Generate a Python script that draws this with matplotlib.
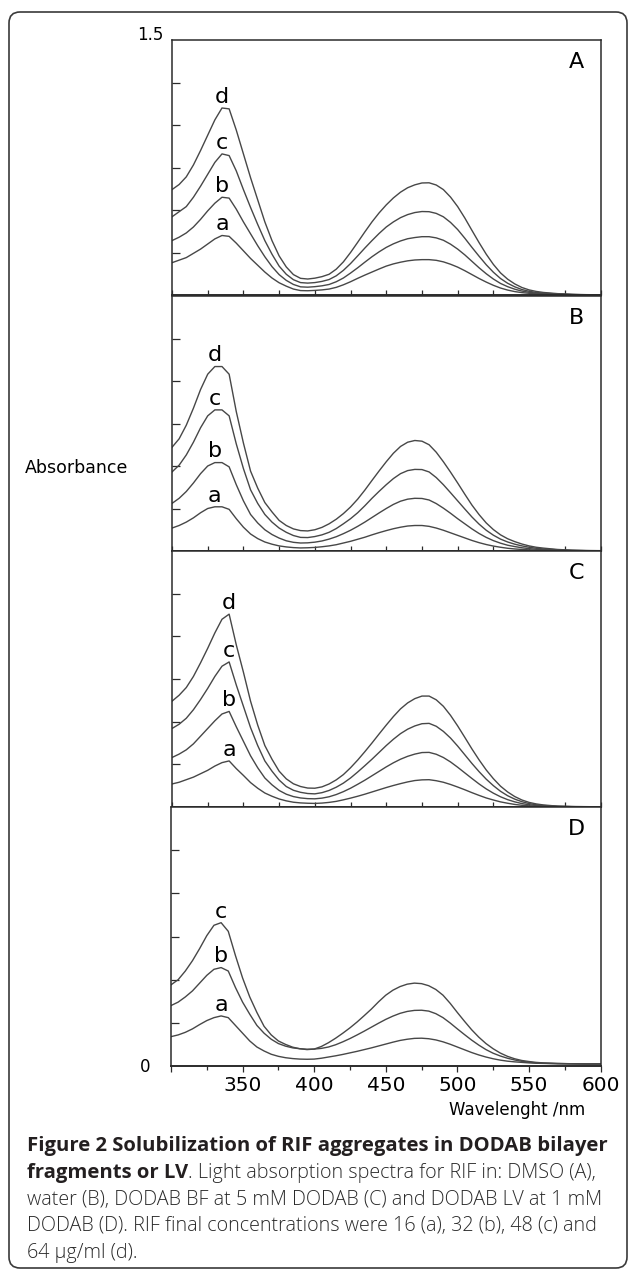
import matplotlib
matplotlib.use("Agg")
import matplotlib.pyplot as plt
from matplotlib.patches import FancyBboxPatch
from matplotlib.ticker import FixedLocator, MultipleLocator, NullFormatter

# ---------------- data ----------------
# wavelengths (nm): 300..560 every 5 nm, then 570, 580, 590, 600
wavelength = [300, 305, 310, 315, 320, 325, 330, 335, 340, 345, 350, 355, 360, 365,
              370, 375, 380, 385, 390, 395, 400, 405, 410, 415, 420, 425, 430, 435,
              440, 445, 450, 455, 460, 465, 470, 475, 480, 485, 490, 495, 500, 505,
              510, 515, 520, 525, 530, 535, 540, 545, 550, 555, 560, 570, 580, 590, 600]

# Panel A (DMSO)
A_a = [.19, .205, .22, .245, .27, .30, .33, .35, .345, .305, .26, .215, .175, .135,
       .10, .072, .052, .035, .026, .025, .027, .03, .035, .045, .06, .078, .098, .117,
       .135, .153, .17, .183, .193, .201, .206, .208, .208, .204, .195, .181, .164, .143,
       .12, .097, .076, .057, .041, .029, .02, .014, .01, .007, .005, .003, .002, .001, .001]
A_b = [.32, .34, .365, .40, .445, .495, .54, .575, .57, .505, .43, .36, .29, .225,
       .167, .12, .086, .062, .048, .046, .049, .054, .062, .078, .10, .129, .16, .193,
       .225, .254, .28, .301, .318, .331, .338, .343, .343, .336, .322, .299, .27, .236,
       .198, .160, .125, .094, .068, .049, .034, .023, .016, .011, .008, .004, .002, .001, .001]
A_c = [.46, .49, .52, .575, .64, .71, .78, .83, .82, .73, .62, .515, .415, .32,
       .24, .17, .122, .090, .073, .070, .073, .08, .091, .113, .145, .185, .23, .276,
       .32, .362, .40, .430, .455, .473, .485, .491, .49, .480, .46, .427, .385, .334,
       .28, .228, .178, .134, .097, .069, .048, .032, .022, .015, .011, .006, .003, .001, .001]
A_d = [.62, .65, .695, .765, .85, .94, 1.03, 1.10, 1.095, .97, .83, .69, .56, .43,
       .32, .23, .165, .12, .098, .094, .099, .108, .122, .152, .195, .25, .31, .371,
       .43, .483, .53, .571, .605, .631, .648, .659, .66, .647, .62, .576, .52, .453,
       .38, .308, .24, .18, .13, .093, .065, .044, .03, .021, .015, .008, .004, .002, .001]

# Panel B (water)
B_a = [.135, .15, .17, .195, .225, .25, .26, .26, .245, .19, .14, .10, .073, .053,
       .04, .03, .024, .020, .018, .019, .021, .025, .03, .037, .047, .057, .069, .081,
       .095, .108, .12, .131, .14, .147, .15, .150, .145, .135, .122, .107, .092, .077,
       .062, .049, .038, .029, .022, .016, .012, .009, .007, .005, .004, .002, .001, .001, .001]
B_b = [.28, .31, .35, .40, .455, .50, .52, .52, .495, .39, .295, .215, .165, .125,
       .097, .076, .06, .051, .047, .048, .052, .059, .07, .084, .102, .122, .145, .170,
       .197, .224, .25, .274, .293, .305, .31, .309, .30, .279, .252, .222, .19, .160,
       .13, .103, .08, .061, .046, .034, .026, .019, .014, .010, .008, .004, .002, .001, .001]
B_c = [.465, .505, .565, .64, .725, .795, .83, .83, .795, .63, .485, .36, .28, .215,
       .17, .135, .11, .091, .08, .079, .085, .095, .11, .132, .16, .190, .225, .266,
       .31, .351, .39, .426, .455, .473, .48, .479, .465, .432, .39, .343, .295, .247,
       .20, .158, .122, .093, .07, .053, .04, .030, .022, .016, .012, .007, .004, .002, .001]
B_d = [.61, .66, .74, .84, .95, 1.04, 1.085, 1.085, 1.04, .82, .635, .47, .37, .285,
       .23, .18, .15, .130, .12, .118, .125, .139, .16, .187, .22, .259, .305, .358,
       .415, .471, .525, .575, .615, .640, .65, .646, .625, .581, .525, .464, .40, .334,
       .27, .214, .165, .126, .095, .072, .055, .041, .03, .022, .017, .009, .005, .003, .002]

# Panel C (DODAB BF)
C_a = [.135, .145, .16, .175, .195, .215, .24, .26, .27, .225, .185, .143, .11, .082,
       .063, .047, .036, .028, .024, .022, .021, .023, .027, .033, .042, .052, .063, .075,
       .088, .101, .114, .126, .137, .147, .155, .159, .16, .154, .145, .132, .117, .101,
       .084, .068, .053, .041, .03, .022, .015, .010, .007, .005, .003, .002, .001, .001, .001]
C_b = [.29, .31, .335, .37, .415, .46, .505, .545, .56, .47, .385, .30, .23, .17,
       .13, .097, .075, .061, .053, .049, .048, .052, .06, .073, .09, .110, .133, .157,
       .183, .209, .235, .259, .28, .297, .31, .319, .32, .309, .29, .264, .233, .200,
       .167, .135, .106, .081, .06, .043, .03, .020, .013, .009, .006, .003, .002, .001, .001]
C_c = [.46, .485, .52, .57, .63, .695, .765, .825, .85, .715, .59, .465, .36, .27,
       .21, .158, .12, .098, .086, .079, .077, .084, .097, .116, .14, .170, .205, .242,
       .28, .320, .36, .397, .43, .456, .475, .488, .49, .473, .443, .404, .357, .306,
       .255, .207, .163, .125, .092, .066, .046, .031, .02, .013, .009, .004, .002, .001, .001]
C_d = [.62, .655, .70, .765, .845, .93, 1.02, 1.10, 1.13, .95, .79, .62, .48, .36,
       .28, .21, .165, .136, .12, .111, .11, .118, .135, .159, .19, .230, .275, .324,
       .375, .428, .48, .530, .575, .610, .635, .650, .65, .628, .59, .537, .475, .408,
       .34, .276, .217, .166, .122, .088, .061, .041, .027, .018, .012, .005, .003, .002, .001]

# Panel D (DODAB LV)
D_a = [.17, .18, .195, .215, .24, .263, .28, .29, .28, .235, .19, .145, .11, .087,
       .068, .056, .048, .043, .04, .039, .04, .045, .052, .059, .067, .076, .085, .095,
       .105, .116, .127, .138, .148, .155, .16, .161, .158, .151, .14, .126, .11, .094,
       .078, .064, .052, .042, .034, .028, .024, .021, .018, .016, .015, .013, .012, .011, .011]
D_b = [.35, .37, .40, .435, .48, .525, .56, .57, .55, .455, .37, .30, .235, .19,
       .155, .13, .115, .105, .10, .097, .098, .102, .11, .123, .14, .159, .18, .202,
       .225, .248, .27, .289, .305, .316, .322, .323, .318, .303, .28, .249, .215, .182,
       .15, .121, .095, .074, .058, .045, .035, .027, .022, .018, .016, .014, .013, .012, .012]
D_c = [.47, .50, .55, .61, .68, .755, .815, .83, .78, .64, .51, .40, .31, .23,
       .18, .145, .125, .109, .10, .095, .098, .113, .135, .161, .19, .221, .255, .292,
       .33, .372, .41, .439, .46, .474, .48, .477, .465, .443, .41, .363, .31, .259,
       .21, .167, .13, .100, .075, .056, .042, .032, .026, .021, .018, .015, .013, .012, .012]

panel_letters = ["A", "B", "C", "D"]
panel_series = [
    [("a", A_a), ("b", A_b), ("c", A_c), ("d", A_d)],
    [("a", B_a), ("b", B_b), ("c", B_c), ("d", B_d)],
    [("a", C_a), ("b", C_b), ("c", C_c), ("d", C_d)],
    [("a", D_a), ("b", D_b), ("c", D_c)],
]

x_ticks = [300, 350, 400, 450, 500, 550, 600]
x_tick_labels = ["", "350", "400", "450", "500", "550", "600"]
y_ticks = [0.25, 0.5, 0.75, 1.0, 1.25]

caption_bold_1 = "Figure 2 Solubilization of RIF aggregates in DODAB bilayer"
caption_bold_2 = "fragments or LV"
caption_rest_2 = ". Light absorption spectra for RIF in: DMSO (A),"
caption_lines = ["water (B), DODAB BF at 5 mM DODAB (C) and DODAB LV at 1 mM",
                 "DODAB (D). RIF final concentrations were 16 (a), 32 (b), 48 (c) and",
                 "64 \u03bcg/ml (d)."]

# ---------------- figure ----------------
W, H = 629, 1270
fig = plt.figure(figsize=(W / 100, H / 100), dpi=100)
fig.patch.set_facecolor("white")

LINE_C = "#474747"
SPINE_C = "#2b2b2b"

# panel rectangles in pixels: (left, top, right, bottom)
px_rects = [(172, 40, 600.5, 295), (172, 296, 600.5, 551),
            (172, 551, 600.5, 807), (171, 807, 600.5, 1066)]

for i, (l, t, r, b) in enumerate(px_rects):
    ax = fig.add_axes([l / W, 1 - b / H, (r - l) / W, (b - t) / H])
    for lab, vals in panel_series[i]:
        ax.plot(wavelength[:len(vals)], vals, color=LINE_C, lw=1.0,
                solid_joinstyle="round")
        region = [k for k, w in enumerate(wavelength) if w < 360]
        kmax = max(region, key=lambda k: vals[k])
        ax.annotate(lab, xy=(wavelength[kmax], vals[kmax]), xytext=(0, 8),
                    textcoords="offset points", ha="center", va="center",
                    fontsize=16, color="black")
    ax.set_xlim(300, 600)
    ax.set_ylim(0, 1.5)
    for s in ax.spines.values():
        s.set_color(SPINE_C)
        s.set_linewidth(1.1)
    ax.spines["bottom"].set_linewidth(1.4)
    ax.yaxis.set_major_locator(FixedLocator(y_ticks))
    ax.yaxis.set_major_formatter(NullFormatter())
    ax.tick_params(axis="y", direction="in", length=5.5, width=0.9, color=SPINE_C,
                   left=True, right=False)
    ax.xaxis.set_major_locator(FixedLocator(x_ticks))
    ax.xaxis.set_minor_locator(MultipleLocator(25))
    if i < 3:
        ax.xaxis.set_major_formatter(NullFormatter())
        ax.tick_params(axis="x", which="both", direction="in", length=3.5,
                       width=0.9, color=SPINE_C, top=False)
    else:
        ax.set_xticklabels(x_tick_labels)
        ax.tick_params(axis="x", which="major", direction="out", length=4.5,
                       width=0.9, color=SPINE_C, pad=2.5, labelsize=14.5, top=False)
        ax.tick_params(axis="x", which="minor", direction="out", length=3,
                       width=0.9, color=SPINE_C, top=False)
    ax.text(0.944, 0.914, panel_letters[i], transform=ax.transAxes, ha="center",
            va="center", fontsize=16, color="black")

# axis texts
fig.text(150 / W, 1 - 35 / H, "1.5", ha="center", va="center", fontsize=12)
fig.text(145 / W, 1 - 1067 / H, "0", ha="center", va="center", fontsize=12)
fig.text(25 / W, 1 - 468 / H, "Absorbance", ha="left", va="center", fontsize=12.5)
fig.text(517 / W, 1 - 1110 / H, "Wavelenght /nm", ha="center", va="center", fontsize=12)

# caption
cap_font = ["Open Sans", "DejaVu Sans"]
bold_size = 14.6
reg_size = 14.2
cap_color = "#231f20"
reg_color = "#2a2a2a"
x0 = 27 / W
line_y = [1146, 1173, 1200, 1226, 1253]
fig.text(x0, 1 - line_y[0] / H, caption_bold_1, family=cap_font, weight="bold",
         fontsize=bold_size, color=cap_color, ha="left", va="center")
t_b2 = fig.text(x0, 1 - line_y[1] / H, caption_bold_2, family=cap_font, weight="bold",
                fontsize=bold_size, color=cap_color, ha="left", va="center")
fig.canvas.draw()
bb = t_b2.get_window_extent(fig.canvas.get_renderer())
fig.text(bb.x1 / W, 1 - line_y[1] / H, caption_rest_2, family=cap_font, weight="light",
         fontsize=reg_size, color=reg_color, ha="left", va="center")
for k, txt in enumerate(caption_lines):
    fig.text(x0, 1 - line_y[k + 2] / H, txt, family=cap_font, weight="light",
             fontsize=reg_size, color=reg_color, ha="left", va="center")

# rounded frame
frame = FancyBboxPatch((9, 2), 618, 1256, boxstyle="round,pad=0,rounding_size=11",
                       transform=None, fill=False, edgecolor="#3a3a3a", lw=1.2)
fig.add_artist(frame)

fig.savefig("out.png", dpi=100, facecolor="white")
